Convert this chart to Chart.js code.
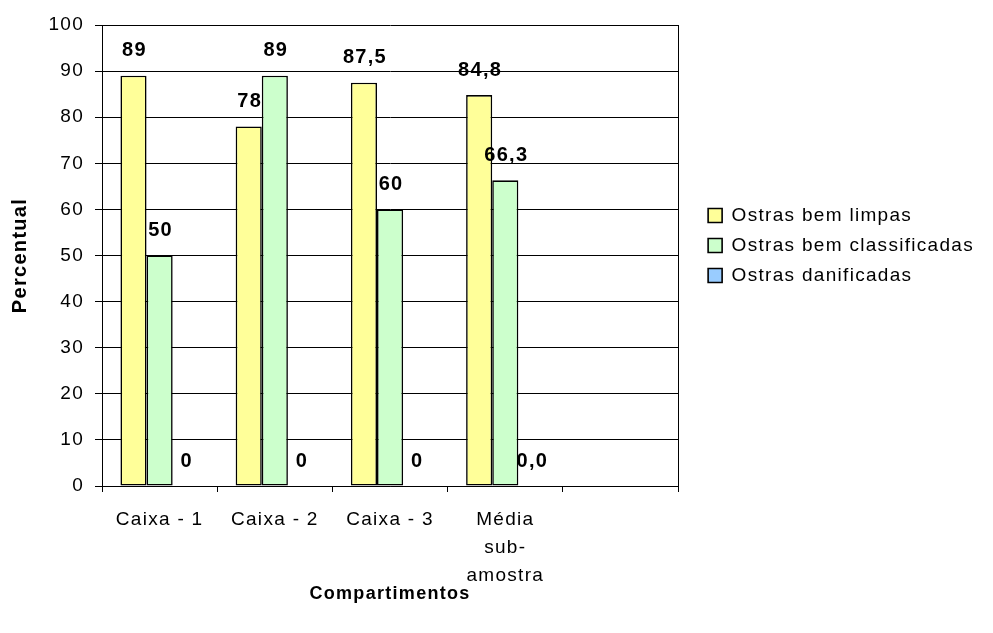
<!DOCTYPE html>
<html>
<head>
<meta charset="utf-8">
<script src="https://cdn.jsdelivr.net/npm/chart.js@4/dist/chart.umd.min.js"></script>
<style>
html,body{margin:0;padding:0;background:#ffffff;}
#wrap{width:993px;height:633px;}
canvas{display:block;}
</style>
</head>
<body>
<div id="wrap"><canvas id="c" width="993" height="633"></canvas></div>
<script>
// ---- data ----
const categories = ['Caixa - 1', 'Caixa - 2', 'Caixa - 3', ['Média', 'sub-', 'amostra'], ''];
const seriesNames = ['Ostras bem limpas', 'Ostras bem classificadas', 'Ostras danificadas'];
const bemLimpas = [89, 78, 87.5, 84.8, null];
const bemClassificadas = [50, 89, 60, 66.3, null];
const danificadas = [0, 0, 0, 0, null];
const yMin = 0;
const yMax = 100;
const yStep = 10;
const xTitle = 'Compartimentos';
const yTitle = 'Percentual';

// ---- styling ----
const FONT = "'Liberation Sans', Arial, Helvetica, sans-serif";
const colors = ['#FFFF99', '#CCFFCC', '#99CCFF'];

function fmt(v, j) {
  const s = (j === 3) ? v.toFixed(1) : String(v);
  return s.replace('.', ',');
}

const spacingPlugin = {
  id: 'spacing',
  beforeUpdate(chart) { chart.ctx.letterSpacing = '1.3px'; },
  beforeDraw(chart) { chart.ctx.letterSpacing = '1.3px'; }
};

const legendShift = {
  id: 'legendShift',
  afterLayout(chart) {
    if (chart.legend) { chart.legend.top -= 10; chart.legend.bottom -= 10; }
  }
};

const valueLabels = {
  id: 'valueLabels',
  afterDatasetsDraw(chart) {
    const ctx = chart.ctx;
    ctx.save();
    ctx.letterSpacing = '1.3px';
    ctx.font = 'bold 20px ' + FONT;
    ctx.fillStyle = '#000';
    ctx.textAlign = 'center';
    ctx.textBaseline = 'middle';
    chart.data.datasets.forEach((ds, i) => {
      chart.getDatasetMeta(i).data.forEach((bar, j) => {
        const v = ds.data[j];
        if (v === null || v === undefined) return;
        ctx.fillText(fmt(v, j), bar.x + 1, bar.y - 25);
      });
    });
    ctx.restore();
  }
};

const seriesData = [bemLimpas, bemClassificadas, danificadas];

new Chart(document.getElementById('c').getContext('2d'), {
  type: 'bar',
  data: {
    labels: categories,
    datasets: seriesData.map((d, i) => ({
      label: seriesNames[i],
      data: d,
      backgroundColor: colors[i],
      borderColor: '#000',
      borderWidth: 1.6,
      borderSkipped: false
    }))
  },
  options: {
    responsive: false,
    animation: false,
    devicePixelRatio: 1,
    layout: { padding: { left: 0, top: 25, right: 9, bottom: 0 } },
    datasets: { bar: { categoryPercentage: 0.68, barPercentage: 1.0 } },
    plugins: {
      legend: {
        position: 'right',
        fullSize: false,
        maxWidth: 400,
        align: 'center',
        labels: {
          boxWidth: 14,
          boxHeight: 14,
          padding: 11,
          color: '#000',
          font: { family: FONT, size: 19 }
        }
      },
      tooltip: { enabled: false }
    },
    scales: {
      x: {
        grid: { offset: true, drawOnChartArea: false, color: '#000', tickColor: '#000', tickLength: 6, lineWidth: 1 },
        border: { color: '#000', width: 1 },
        ticks: { color: '#000', font: { family: FONT, size: 19, lineHeight: '28px' }, padding: 14, maxRotation: 0, autoSkip: false },
        title: { display: true, text: xTitle, color: '#000', font: { family: FONT, size: 18, weight: 'bold', lineHeight: '24px' }, padding: { top: 0, bottom: 27 } },
        afterFit(s) { s.height = 147; }
      },
      y: {
        min: yMin,
        max: yMax,
        ticks: { stepSize: yStep, color: '#000', font: { family: FONT, size: 19 }, padding: 11 },
        grid: { color: '#000', tickColor: '#000', tickLength: 7, lineWidth: 1 },
        border: { color: '#000', width: 1 },
        title: { display: true, text: yTitle, color: '#000', font: { family: FONT, size: 20, weight: 'bold', lineHeight: '24px' }, padding: { top: 8, bottom: 0 } },
        afterFit(s) { s.width = 102; }
      },
      y2: {
        position: 'right',
        display: true,
        grid: { drawOnChartArea: false, drawTicks: false },
        ticks: { display: false },
        border: { display: true, color: '#000', width: 1 },
        afterFit(s) { s.width = 19; }
      }
    }
  },
  plugins: [spacingPlugin, legendShift, valueLabels]
});
</script>
</body>
</html>
